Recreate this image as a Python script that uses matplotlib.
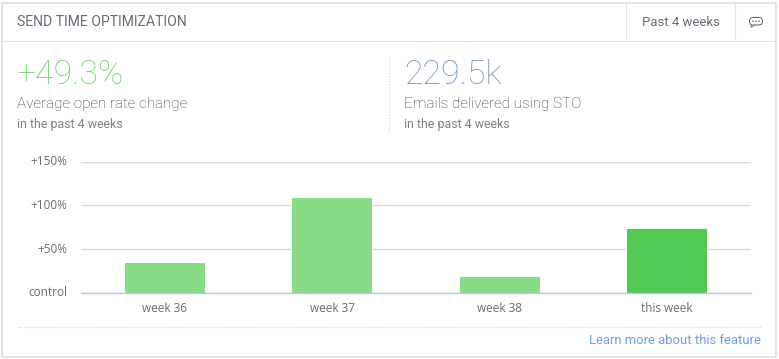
import matplotlib
matplotlib.use("Agg")
import matplotlib.pyplot as plt
from matplotlib.patches import Rectangle, FancyBboxPatch, Polygon, Circle
from matplotlib.transforms import ScaledTranslation

plt.rcParams['font.family'] = ['Roboto', 'DejaVu Sans']

categories = ["week 36", "week 37", "week 38", "this week"]
values = [33.8, 108, 17.7, 72.7]
bar_colors = ["#88dc85", "#88dc85", "#88dc85", "#52c952"]
y_ticks = [0, 50, 100, 150]
y_labels = ["control", "+50%", "+100%", "+150%"]

W, H = 779, 359
fig = plt.figure(figsize=(W / 100, H / 100), dpi=100, facecolor="white")

bg = fig.add_axes([0, 0, 1, 1], zorder=0)
bg.set_xlim(0, W); bg.set_ylim(H, 0); bg.axis("off")
BORDER = "#e3e3e3"
bg.add_patch(Rectangle((2.5, 2.5), 774, 354, fc="white", ec=BORDER, lw=1.4))
bg.plot([3, 776], [40.5, 40.5], color=BORDER, lw=0.8)
bg.plot([626.5, 626.5], [3, 40], color=BORDER, lw=0.8)
bg.plot([735.5, 735.5], [3, 40], color=BORDER, lw=0.8)
bg.plot([389.5, 389.5], [56, 132], color="#d5d5d5", lw=0.8, ls=(0, (1, 1.5)))
bg.plot([18, 761], [326.5, 326.5], color="#d5d5d5", lw=0.8, ls=(0, (1, 1.5)))

GREY = "#666c76"
DARK = "#2f353e"
SMALL = "#7b8089"
bg.text(17, 22.5, "SEND TIME OPTIMIZATION", fontsize=10.05, color=GREY, va="center", ha="left")
bg.text(642, 22, "Past 4 weeks", fontsize=9.45, color=GREY, va="center", ha="left")

bg.text(17, 75, "+49.3%", fontsize=24.4, color="#70d46e", va="center", ha="left", fontweight="light")
bg.text(17, 104, "Average open rate change", fontsize=11, color=DARK, va="center", ha="left", fontweight="light")
bg.text(17, 124.5, "in the past 4 weeks", fontsize=8.9, color=SMALL, va="center", ha="left")
bg.text(404.5, 75, "229.5k", fontsize=24.4, color="#7897bf", va="center", ha="left", fontweight="light")
bg.text(404.5, 104, "Emails delivered using STO", fontsize=11, color=DARK, va="center", ha="left", fontweight="light")
bg.text(404.5, 124.5, "in the past 4 weeks", fontsize=8.9, color=SMALL, va="center", ha="left")
bg.text(761, 341, "Learn more about this feature", fontsize=9.4, color="#6f9fd8", va="center", ha="right")

bg.add_patch(FancyBboxPatch((749.5, 17.5), 13, 7.5, boxstyle="round,pad=0,rounding_size=3.7", fc="white", ec=GREY, lw=0.8))
bg.add_patch(Polygon([(752, 24.8), (751, 27.2), (755, 25)], closed=False, fc="white", ec=GREY, lw=0.7, zorder=3))
for cx in (753, 756, 759):
    bg.add_patch(Circle((cx, 21.2), 0.8, fc=GREY, ec="none", zorder=3))

ax = fig.add_axes([81 / W, 1 - 292.5 / H, 670 / W, 131 / H], zorder=1)
ax.patch.set_alpha(0)
x = list(range(len(categories)))
ax.bar(x, values, width=80 / 167.5, color=bar_colors, linewidth=0, zorder=3)
ax.bar(x, values, width=82 / 167.5, color="white", linewidth=0, zorder=2.5)
ax.set_xlim(-0.5, 3.5)
ax.set_ylim(0, 150)
ax.set_xticks(x, categories)
ax.set_yticks(y_ticks, y_labels)
ax.grid(axis="y", color="#d8dadd", lw=1.0, zorder=1)
ax.set_axisbelow(True)
for s in ("top", "right", "left"):
    ax.spines[s].set_visible(False)
ax.spines["bottom"].set_color("#b3cae3")
ax.spines["bottom"].set_linewidth(1.0)
ax.spines["bottom"].set_zorder(4)
ax.tick_params(axis="both", length=0, colors=GREY, labelsize=8.5)
ax.tick_params(axis="x", pad=6.5)
ax.tick_params(axis="y", pad=10)
shift = ScaledTranslation(0, 1.2 / 100, fig.dpi_scale_trans)
for t in ax.get_yticklabels():
    t.set_transform(t.get_transform() + shift)
for t in ax.get_xticklabels() + ax.get_yticklabels():
    t.set_fontfamily(['Open Sans', 'DejaVu Sans'])

fig.savefig("out.png", dpi=100)
